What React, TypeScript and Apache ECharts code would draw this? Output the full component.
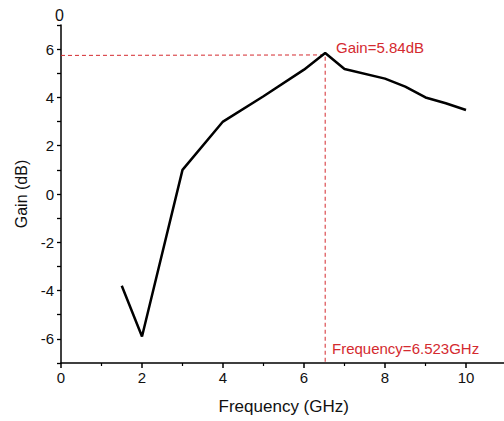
import React, { useEffect, useRef } from "react";
import * as echarts from "echarts";

const freq = [1.5, 2, 3, 4, 5, 6, 6.523, 7, 8, 8.5, 9, 9.5, 10];
const gain = [-3.8, -5.9, 1.0, 3.0, 4.05, 5.15, 5.84, 5.18, 4.78, 4.45, 4.0, 3.76, 3.48];
const peakFreq = 6.523;
const peakGain = 5.84;
const xTicks = [0, 2, 4, 6, 8, 10];
const yTicks = [-6, -4, -2, 0, 2, 4, 6];

export default function App() {
  const ref = useRef<HTMLDivElement>(null);
  useEffect(() => {
    const chart = echarts.init(ref.current!, null, { renderer: "svg" });
    const font = "'Liberation Sans', Arial, sans-serif";
    const red = "#d42a2f";
    chart.setOption({
      animation: false,
      backgroundColor: "#fff",
      grid: { left: 61, top: 25, width: 445.5, height: 338, outerBoundsMode: "none", containLabel: false },
      xAxis: {
        type: "value",
        min: 0,
        max: 11,
        interval: 2,
        name: "Frequency (GHz)",
        nameLocation: "middle",
        nameGap: 35,
        nameTextStyle: { fontFamily: font, fontSize: 17, color: "#111" },
        axisLine: { onZero: false, lineStyle: { color: "#000", width: 1.5 } },
        axisTick: { length: 5, lineStyle: { color: "#000", width: 1.5 } },
        minorTick: { show: true, splitNumber: 2, length: 3, lineStyle: { color: "#000", width: 1.2 } },
        axisLabel: {
          fontFamily: font, fontSize: 15, color: "#111", margin: 7,
          formatter: (v: number) => (xTicks.includes(v) ? String(v) : ""),
        },
        splitLine: { show: false },
      },
      yAxis: {
        type: "value",
        min: -7,
        max: 7,
        interval: 1,
        name: "Gain (dB)",
        nameLocation: "middle",
        nameGap: 32,
        nameTextStyle: { fontFamily: font, fontSize: 16, color: "#111" },
        axisLine: { onZero: false, lineStyle: { color: "#000", width: 1.5 } },
        axisTick: { length: 4, lineStyle: { color: "#000", width: 1.3 } },
        minorTick: { show: false },
        axisLabel: {
          fontFamily: font, fontSize: 15, color: "#111", margin: 7,
          formatter: (v: number) => (yTicks.includes(v) ? String(v) : ""),
        },
        splitLine: { show: false },
      },
      graphic: [
        { type: "text", left: 55, top: 7, style: { text: "0", font: "16px " + font, fill: "#111" } },
        { type: "text", left: 336, top: 40, style: { text: "Gain=5.84dB", font: "15px " + font, fill: red } },
        { type: "text", left: 332, top: 341, style: { text: "Frequency=6.523GHz", font: "15px " + font, fill: red } },
      ],
      series: [
        {
          type: "line",
          data: [[0, 5.74], [peakFreq, 5.76], [peakFreq, -7]],
          showSymbol: false,
          lineStyle: { color: red, width: 1, type: [4, 3] },
          silent: true,
          z: 1,
        },
        {
          type: "line",
          data: freq.map((f, i) => [f, gain[i]]),
          showSymbol: false,
          lineStyle: { color: "#000", width: 2.5 },
          z: 3,
        },
      ],
    });
    return () => chart.dispose();
  }, []);
  return <div ref={ref} style={{ width: 504, height: 421, position: "absolute", left: 0, top: 0 }} />;
}
